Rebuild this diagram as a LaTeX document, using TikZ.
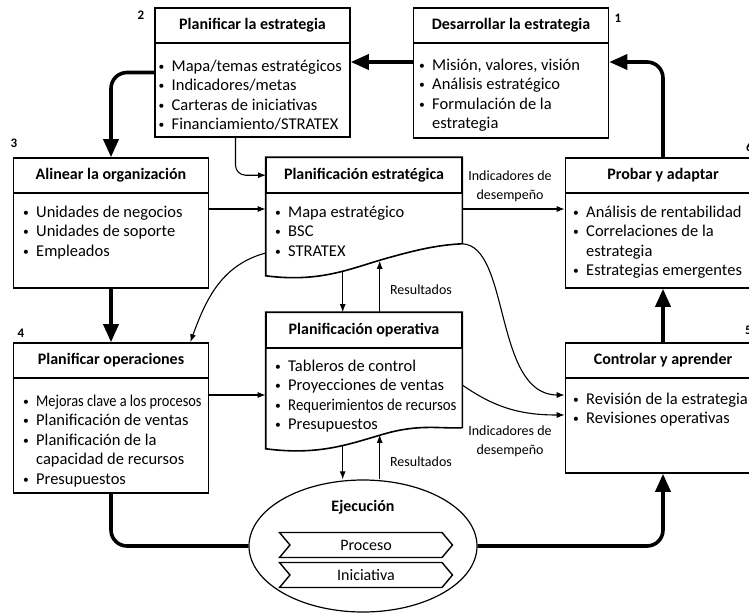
\documentclass[tikz,border=0pt]{standalone}
\usepackage{fontspec}
\setmainfont{Carlito}
\usepackage{tikz}
\usetikzlibrary{arrows.meta,positioning,calc,shapes.geometric,shapes.symbols}
\tikzset{
  stage/.style={draw, line width=1.6pt, minimum width=195pt, inner sep=0pt},
  stagehead/.style={draw, line width=1pt, minimum width=195pt, minimum height=35pt,
    anchor=north, inner sep=0pt, font=\fontsize{16}{18}\selectfont\bfseries},
  headrule/.style={line width=2.2pt},
  stagelist/.style={anchor=north west, inner sep=0pt, align=left,
    font=\fontsize{16.5}{19.5}\selectfont},
  stagenum/.style={inner sep=0pt, font=\fontsize{13}{13}\selectfont\bfseries},
  flowline/.style={line width=3.6pt, rounded corners=16pt},
  flow/.style={flowline, -{Triangle[length=18pt,width=15pt]}},
  link/.style={line width=1.1pt, -{Latex[length=8pt,width=6pt]}},
  note/.style={inner sep=0pt, align=center, font=\fontsize{14}{19}\selectfont},
  chevron/.style={draw, line width=1.4pt, signal, signal from=west, signal to=east,
    signal pointer angle=100, minimum width=173pt, minimum height=25pt, inner sep=0pt,
    font=\fontsize{16}{16}\selectfont}
}
\newcommand{\bul}{\strut\makebox[13pt][l]{\raisebox{0.8pt}{\scalebox{0.7}{\textbullet}}}}
\newcommand{\hang}{\strut\hspace*{13pt}}
\begin{document}
\begin{tikzpicture}[x=1pt,y=1pt]
  \useasboundingbox[fill=white] (0,0) rectangle (749,-613);
  \coordinate (lvl-a) at (0,-209);
  \coordinate (lvl-b) at (0,-253);
  \coordinate (lvl-c) at (0,-395);
  \coordinate (lvl-d) at (0,-385);
  \coordinate (lvl-e) at (0,-415);

  % strategy boxes
  \node[stage, minimum height=130pt] (desarrollar) at (511,-73) {};
  \node[stagehead] (desarrollar-h) at (desarrollar.north) {Desarrollar la estrategia};
  \node[stagelist] (desarrollar-l) at ([xshift=6pt,yshift=-13pt]desarrollar-h.south west)
    {\bul Misión, valores, visión\\ \bul Análisis estratégico\\ \bul Formulación de la\\ \hang estrategia};

  \node[stage, minimum height=129pt] (planificar) at (252.5,-72.5) {};
  \node[stagehead] (planificar-h) at (planificar.north) {Planificar la estrategia};
  \node[stagelist] (planificar-l) at ([xshift=4pt,yshift=-14pt]planificar-h.south west)
    {\bul Mapa/temas estratégicos\\ \bul Indicadores/metas\\ \bul Carteras de iniciativas\\ \bul Financiamiento/STRATEX};

  \node[stage, minimum height=130pt] (alinear) at (111,-223) {};
  \node[stagehead] (alinear-h) at (alinear.north) {Alinear la organización};
  \node[stagelist] (alinear-l) at ([xshift=10pt,yshift=-10pt]alinear-h.south west)
    {\bul Unidades de negocios\\ \bul Unidades de soporte\\ \bul Empleados};

  \node[stage, minimum height=150pt] (operaciones) at (111,-418) {};
  \node[stagehead] (operaciones-h) at (operaciones.north) {Planificar operaciones};
  \node[stagelist] (operaciones-l) at ([xshift=10pt,yshift=-14pt]operaciones-h.south west)
    {\bul \scalebox{0.87}[1]{Mejoras clave a los procesos}\\ \bul Planificación de ventas\\ \bul Planificación de la\\ \hang capacidad de recursos\\ \bul Presupuestos};

  \node[stage, minimum height=130pt] (probar) at (663,-223) {};
  \node[stagehead] (probar-h) at (probar.north) {Probar y adaptar};
  \node[stagelist] (probar-l) at ([xshift=8pt,yshift=-10pt]probar-h.south west)
    {\bul Análisis de rentabilidad\\ \bul Correlaciones de la\\ \hang estrategia\\ \bul Estrategias emergentes};

  \node[stage, minimum height=130pt] (controlar) at (663,-408) {};
  \node[stagehead] (controlar-h) at (controlar.north) {Controlar y aprender};
  \node[stagelist] (controlar-l) at ([xshift=8pt,yshift=-12pt]controlar-h.south west)
    {\bul Revisión de la estrategia\\ \bul Revisiones operativas};

  % planning documents (wavy bottom)
  \node[stage, draw=none, minimum height=117pt] (estrategica) at (364,-216.5) {};
  \node[stagehead] (estrategica-h) at (estrategica.north) {Planificación estratégica};
  \node[stagelist] (estrategica-l) at ([xshift=9pt,yshift=-10pt]estrategica-h.south west)
    {\bul Mapa estratégico\\ \bul BSC\\ \bul STRATEX};
  \coordinate (estrategica-m) at ($(estrategica.south west)+(119,17)$);
  \coordinate (estrategica-dn) at ($(estrategica.south west)+(77,5)$);
  \coordinate (estrategica-up) at ($(estrategica.south west)+(114,15)$);
  \draw[line width=1.6pt] ([yshift=32pt]estrategica.south east) -- (estrategica.north east)
    -- (estrategica.north west) -- (estrategica.south west)
    .. controls +(54,-7) and +(-35,-10) .. (estrategica-m)
    .. controls +(35,10) and +(-22,-1) .. ([yshift=32pt]estrategica.south east);

  \node[stage, draw=none, minimum height=135pt] (operativa) at (364,-380.5) {};
  \node[stagehead] (operativa-h) at (operativa.north) {Planificación operativa};
  \node[stagelist] (operativa-l) at ([xshift=9pt,yshift=-9pt]operativa-h.south west)
    {\bul Tableros de control\\ \bul Proyecciones de ventas\\ \bul \scalebox{0.9}[1]{Requerimientos de recursos}\\ \bul Presupuestos};
  \coordinate (operativa-m) at ($(operativa.south west)+(119,15)$);
  \coordinate (operativa-dn) at ($(operativa.south west)+(77,3)$);
  \coordinate (operativa-up) at ($(operativa.south west)+(114,14)$);
  \draw[line width=1.6pt] ([yshift=21pt]operativa.south east) -- (operativa.north east)
    -- (operativa.north west) -- (operativa.south west)
    .. controls +(54,-7) and +(-35,-10) .. (operativa-m)
    .. controls +(35,10) and +(-22,-1) .. ([yshift=21pt]operativa.south east);

  \foreach \b in {desarrollar,planificar,alinear,operaciones,probar,controlar,estrategica,operativa}
    \draw[headrule] (\b-h.south west) -- (\b-h.south east);

  % step numbers
  \node[stagenum] (num1) at (618,-18) {1};
  \node[stagenum] (num2) at (141,-15) {2};
  \node[stagenum] (num3) at (14,-143) {3};
  \node[stagenum] (num4) at (21,-333) {4};
  \node[stagenum, anchor=west] (num5) at (745,-330) {5};
  \node[stagenum, anchor=west] (num6) at (746,-147) {6};

  % execution
  \node[draw, ellipse, line width=1.2pt, minimum width=228pt, minimum height=132pt] (ejecucion) at (363,-546) {};
  \node[font=\fontsize{16}{16}\selectfont\bfseries] (ejecucion-t) at (363,-507) {Ejecución};
  \node[chevron] (proceso) at (366,-545) {Proceso};
  \node[chevron] (iniciativa) at (366,-575) {Iniciativa};

  % main cycle
  \draw[flow] ([yshift=11pt]desarrollar.west) -- ([yshift=11pt]desarrollar.west -| planificar.east);
  \draw[flow] (planificar.west) -| (alinear.north);
  \draw[flow] (alinear.south) -- (operaciones.north);
  \draw[flowline] (operaciones.south) |- (ejecucion.west);
  \draw[flow] (ejecucion.east) -| (controlar.south);
  \draw[flow] (controlar.north) -- (probar.south);
  \draw[flow] (probar.north) |- ([yshift=11pt]desarrollar.east);

  % information links
  \draw[link, rounded corners=10pt] ([xshift=-17pt]planificar.south) |- (estrategica-h.west);
  \draw[link] (alinear.east |- lvl-a) -- (estrategica.west |- lvl-a);
  \draw[link] (estrategica.east |- lvl-a) -- (probar.west |- lvl-a);
  \draw[link] (estrategica.west |- lvl-b) to[out=195,in=70] ([xshift=-19pt]operaciones.north east);
  \draw[link] (operaciones.east |- lvl-c) -- (operativa.west |- lvl-c);
  \draw[link] ([yshift=32pt]estrategica.south east) .. controls +(48,-2) and +(-71,0) .. (controlar.west |- lvl-c);
  \draw[link] (operativa.east |- lvl-d) to[out=-35,in=180] (controlar.west |- lvl-e);
  \draw[link] (estrategica-dn) -- (estrategica-dn |- operativa-h.north);
  \draw[link] (estrategica-up |- operativa-h.north) -- (estrategica-up);
  \draw[link] (operativa-dn) -- (operativa-dn |- ejecucion.north);
  \draw[link] (operativa-up |- ejecucion.north) -- (operativa-up);

  \node[note] (indic1) at (510,-186) {Indicadores de\\desempeño};
  \node[note] (indic2) at (510,-441) {Indicadores de\\desempeño};
  \node[note] (result1) at (421,-290) {Resultados};
  \node[note] (result2) at (421,-462) {Resultados};
\end{tikzpicture}
\end{document}
